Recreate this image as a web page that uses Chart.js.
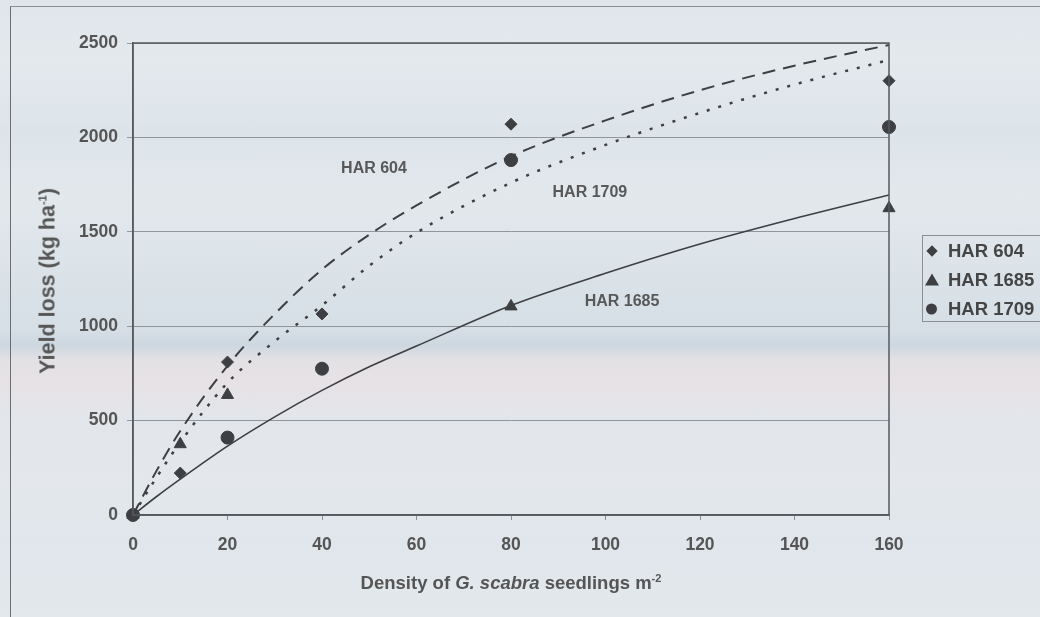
<!DOCTYPE html>
<html>
<head>
<meta charset="utf-8">
<script src="https://cdn.jsdelivr.net/npm/chart.js@4"></script>
<style>
  html, body { margin: 0; padding: 0; }
  body {
    width: 1040px; height: 617px; position: relative; overflow: hidden;
    font-family: "Liberation Sans", Arial, sans-serif;
    background: linear-gradient(to bottom,
      #dfe6eb 0px, #e4e9ed 60px, #dce4ea 130px, #e3e8ec 200px,
      #dbe3e9 270px, #d6dfe6 330px, #cdd7e0 345px, #e4e1e5 360px,
      #e6e2e6 385px, #e2e6ea 420px, #e4e8ec 480px, #e0e6eb 540px, #e3e8ec 617px);
  }
  #frame { position: absolute; left: 10px; top: 6px; width: 1100px; height: 700px;
    border-left: 1.5px solid #6a6f74; border-top: 1px solid #8a9096; }
  canvas { position: absolute; left: 0; top: 0; }
  .ttl { position: absolute; color: #555; font-weight: bold; white-space: nowrap; }
  .ttl sup { font-size: 11px; }
  #ytitle { left: 48px; top: 281px; font-size: 21.5px; transform: translate(-50%, -50%) rotate(-90deg); }
  #xtitle { left: 511px; top: 583px; font-size: 18.5px; transform: translate(-50%, -50%); }
  #legend { position: absolute; left: 922px; top: 235px; width: 130px; height: 87px;
    border: 1px solid #8a9096; box-sizing: border-box; }
  .lg { position: absolute; left: 25px; font-weight: bold; font-size: 18.5px; color: #454545;
    transform: translateY(-50%); white-space: nowrap; }
  .mk { position: absolute; background: #3d3f42; }
  .dia { left: 5px; width: 8px; height: 8px; transform: translateY(-50%) rotate(45deg); }
  .cir { left: 3px; width: 11px; height: 11px; border-radius: 50%; transform: translateY(-50%); }
  .tri { left: 2px; width: 0; height: 0; background: none; transform: translateY(-55%);
    border-left: 7px solid transparent; border-right: 7px solid transparent; border-bottom: 12px solid #3d3f42; }
</style>
</head>
<body>
<div id="frame"></div>
<canvas id="c" width="1040" height="617"></canvas>
<div class="ttl" id="ytitle">Yield loss (kg ha<sup>-1</sup>)</div>
<div class="ttl" id="xtitle">Density of <i>G. scabra</i> seedlings m<sup>-2</sup></div>
<div id="legend">
  <div class="mk dia" style="top:15px"></div><div class="lg" style="top:15px">HAR 604</div>
  <div class="mk tri" style="top:44px"></div><div class="lg" style="top:44px">HAR 1685</div>
  <div class="mk cir" style="top:73px"></div><div class="lg" style="top:73px">HAR 1709</div>
</div>
<script>
// observed points
const densObs = [0, 10, 20, 40, 80, 160];
const har604 = [0, 222, 810, 1065, 2070, 2300];
const dens1685 = [0, 10, 20, 80, 160];
const har1685 = [0, 375, 636, 1105, 1625];
const dens1709 = [0, 20, 40, 80, 160];
const har1709 = [0, 410, 775, 1880, 2055];

// fitted curves
const densFit = [0, 5, 10, 20, 30, 40, 50, 60, 80, 100, 120, 140, 160];
const fit604 = [0, 235, 445, 790, 1065, 1300, 1485, 1640, 1900, 2090, 2250, 2380, 2490];
const fit1685 = [0, 98, 190, 365, 520, 660, 785, 895, 1110, 1280, 1435, 1570, 1695];
const fit1709 = [0, 200, 385, 700, 920, 1110, 1320, 1495, 1760, 1960, 2130, 2280, 2410];

const yTicks = [0, 500, 1000, 1500, 2000, 2500];
const xTicks = [0, 20, 40, 60, 80, 100, 120, 140, 160];

const curveLabels = [
  { text: "HAR 604", x: 51, y: 1833 },
  { text: "HAR 1709", x: 96.7, y: 1706 },
  { text: "HAR 1685", x: 103.5, y: 1128 }
];

const pts = (xs, ys) => xs.map((x, i) => ({ x: x, y: ys[i] }));
const ink = "#3d3f42";
const tickFont = { family: "'Liberation Sans', Arial", size: 17.5, weight: "bold" };

const boxAndLabels = {
  id: "boxAndLabels",
  afterDatasetsDraw(chart) {
    const { ctx, chartArea: a, scales } = chart;
    ctx.save();
    ctx.strokeStyle = "#55595e";
    ctx.lineWidth = 1.5;
    ctx.strokeRect(a.left, a.top, a.right - a.left, a.bottom - a.top);
    ctx.fillStyle = "#585858";
    ctx.font = "bold 16px 'Liberation Sans', Arial, sans-serif";
    ctx.textAlign = "center";
    ctx.textBaseline = "middle";
    curveLabels.forEach(l => {
      ctx.fillText(l.text, scales.x.getPixelForValue(l.x), scales.y.getPixelForValue(l.y));
    });
    ctx.restore();
  }
};

new Chart(document.getElementById("c"), {
  type: "scatter",
  data: {
    datasets: [
      { data: pts(densFit, fit604), showLine: true, pointRadius: 0, borderColor: ink,
        borderWidth: 2, borderDash: [13, 8], cubicInterpolationMode: "monotone" },
      { data: pts(densFit, fit1709), showLine: true, pointRadius: 0, borderColor: ink,
        borderWidth: 2.5, borderDash: [3, 9], cubicInterpolationMode: "monotone" },
      { data: pts(densFit, fit1685), showLine: true, pointRadius: 0, borderColor: ink,
        borderWidth: 1.6, cubicInterpolationMode: "monotone" },
      { label: "HAR 604", data: pts(densObs, har604), pointStyle: "rectRot", pointRadius: 6,
        backgroundColor: ink, borderColor: ink, clip: false },
      { label: "HAR 1685", data: pts(dens1685, har1685), pointStyle: "triangle", pointRadius: 7,
        backgroundColor: ink, borderColor: ink, clip: false },
      { label: "HAR 1709", data: pts(dens1709, har1709), pointStyle: "circle", pointRadius: 6.5,
        backgroundColor: ink, borderColor: ink, clip: false }
    ]
  },
  options: {
    responsive: false,
    animation: false,
    layout: { padding: { left: 0, top: 43, right: 151, bottom: 57 } },
    plugins: { legend: { display: false }, tooltip: { enabled: false } },
    scales: {
      x: {
        type: "linear", min: 0, max: 160,
        afterBuildTicks: s => { s.ticks = xTicks.map(v => ({ value: v })); },
        afterFit: s => { s.height = 45; },
        grid: { drawOnChartArea: false, tickLength: 5, color: "#8a9096" },
        border: { color: "#55595e", width: 1.5 },
        ticks: { padding: 15, color: "#555", font: tickFont, callback: v => String(v) }
      },
      y: {
        min: 0, max: 2500,
        afterBuildTicks: s => { s.ticks = yTicks.map(v => ({ value: v })); },
        afterFit: s => { s.width = 133; },
        grid: { color: "#8f969c", lineWidth: 1, tickLength: 6 },
        border: { color: "#55595e", width: 1.5 },
        ticks: { padding: 9, color: "#555", font: tickFont, callback: v => String(v) }
      }
    }
  },
  plugins: [boxAndLabels]
});
</script>
</body>
</html>
